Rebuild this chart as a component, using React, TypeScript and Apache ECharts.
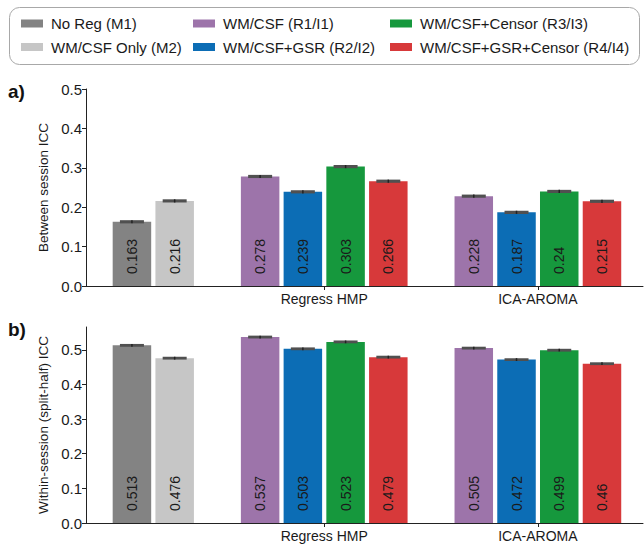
import React, { useEffect, useRef } from "react";
import * as echarts from "echarts";

// ---------- data ----------
const methodNames = [
  "No Reg (M1)",
  "WM/CSF Only (M2)",
  "WM/CSF (R1/I1)",
  "WM/CSF+GSR (R2/I2)",
  "WM/CSF+Censor (R3/I3)",
  "WM/CSF+GSR+Censor (R4/I4)",
];
const methodColors = ["#838383", "#c6c6c6", "#9d74aa", "#0c6db5", "#16983d", "#d7393a"];

// groups on the x axis; each lists the methods drawn in it
const groupLabels = ["", "Regress HMP", "ICA-AROMA"];
const groupMethods = [
  [0, 1],
  [2, 3, 4, 5],
  [2, 3, 4, 5],
];

// values per group (same order as groupMethods)
const betweenSessionICC = [
  [0.163, 0.216],
  [0.278, 0.239, 0.303, 0.266],
  [0.228, 0.187, 0.24, 0.215],
];
const withinSessionICC = [
  [0.513, 0.476],
  [0.537, 0.503, 0.523, 0.479],
  [0.505, 0.472, 0.499, 0.46],
];
const betweenErr = [
  [0.0015, 0.0015],
  [0.0015, 0.0015, 0.0015, 0.0015],
  [0.0015, 0.0015, 0.0015, 0.0015],
];
const withinErr = [
  [0.0012, 0.0012],
  [0.0012, 0.0012, 0.0012, 0.0012],
  [0.0012, 0.0012, 0.0012, 0.0012],
];
const yTicks = [0, 0.1, 0.2, 0.3, 0.4, 0.5];

// ---------- layout helpers ----------
// slot positions: one slot per bar, one empty slot between groups
function slotPositions() {
  const pos: number[][] = [];
  let s = 0;
  groupMethods.forEach((g) => {
    const row: number[] = [];
    g.forEach(() => {
      row.push(s);
      s += 1;
    });
    pos.push(row);
    s += 1;
  });
  return pos;
}
const positions = slotPositions();
const groupCenters = positions.map((r) => (r[0] + r[r.length - 1]) / 2);

const FONT = "'Liberation Sans', Arial, Helvetica, sans-serif";

function buildSeries(panel: number, values: number[][], errs: number[][]) {
  const series: any[] = [];
  methodNames.forEach((name, mi) => {
    const data: any[] = [];
    groupMethods.forEach((g, gi) => {
      g.forEach((m, k) => {
        if (m === mi) data.push([positions[gi][k], values[gi][k]]);
      });
    });
    series.push({
      type: "bar",
      name,
      xAxisIndex: panel,
      yAxisIndex: panel,
      data,
      barWidth: 38.5,
      barGap: "-100%",
      itemStyle: { color: methodColors[mi] },
      label: {
        show: true,
        position: "insideBottom",
        rotate: 90,
        align: "left",
        verticalAlign: "middle",
        distance: 12,
        color: "#1a1a1a",
        fontSize: 14,
        fontFamily: FONT,
        formatter: (p: any) => String(p.value[1]),
      },
      emphasis: { disabled: true },
    });
  });
  const errData: any[] = [];
  groupMethods.forEach((g, gi) => {
    g.forEach((m, k) => {
      errData.push([positions[gi][k], values[gi][k], errs[gi][k]]);
    });
  });
  series.push({
    type: "custom",
    xAxisIndex: panel,
    yAxisIndex: panel,
    data: errData,
    encode: { x: 0, y: 1 },
    z: 10,
    silent: true,
    renderItem: (params: any, api: any) => {
      const x = api.value(0);
      const y = api.value(1);
      const e = api.value(2);
      const top = api.coord([x, y + e]);
      const bot = api.coord([x, y - e]);
      const h = Math.max(bot[1] - top[1], 0);
      return {
        type: "group",
        children: [
          {
            type: "rect",
            shape: { x: top[0] - 12, y: top[1] - 1, width: 24, height: h + 2 },
            style: { fill: "#505050" },
          },
          {
            type: "line",
            shape: { x1: top[0], y1: top[1] - 1, x2: top[0], y2: bot[1] + 1 },
            style: { stroke: "#222", lineWidth: 1.5 },
          },
        ],
      };
    },
  });
  return series;
}

export default function App() {
  const ref = useRef<HTMLDivElement>(null);
  useEffect(() => {
    if (!ref.current) return;
    const chart = echarts.init(ref.current, undefined, { renderer: "svg" });
    const labelledCenters = groupCenters.filter((_, i) => groupLabels[i] !== "");
    const xAxisBase = (idx: number) => ({
      type: "value",
      gridIndex: idx,
      min: -1.075,
      max: 11.96,
      splitLine: { show: false },
      axisLine: { show: true, onZero: false, lineStyle: { color: "#222", width: 1 } },
      axisTick: {
        show: true,
        customValues: labelledCenters,
        length: 4,
        lineStyle: { color: "#222" },
      },
      axisLabel: {
        show: true,
        customValues: labelledCenters,
        formatter: (v: number) => {
          const i = groupCenters.findIndex((c) => Math.abs(c - v) < 1e-6);
          return i >= 0 ? groupLabels[i] : "";
        },
        color: "#1a1a1a",
        fontSize: 14,
        fontFamily: FONT,
        margin: 6,
      },
    });
    const yAxisBase = (idx: number, max: number, name: string) => ({
      type: "value",
      gridIndex: idx,
      min: 0,
      max,
      name,
      nameLocation: "middle",
      nameGap: 30,
      nameTextStyle: { color: "#1a1a1a", fontSize: 13.5, fontFamily: FONT },
      splitLine: { show: false },
      axisLine: { show: true, onZero: false, lineStyle: { color: "#222", width: 1 } },
      axisTick: { show: true, length: 4, customValues: yTicks, lineStyle: { color: "#222" } },
      axisLabel: {
        customValues: yTicks,
        formatter: (v: number) => v.toFixed(1),
        color: "#1a1a1a",
        fontSize: 15,
        fontFamily: FONT,
        margin: 4,
      },
    });
    const legendBase = (left: number, names: string[]) => ({
      orient: "vertical",
      left,
      top: 15.5,
      padding: 0,
      itemGap: 7.5,
      itemWidth: 22,
      itemHeight: 8,
      icon: "rect",
      selectedMode: false,
      data: names,
      textStyle: {
        color: "#1a1a1a",
        fontSize: 15,
        lineHeight: 16,
        fontFamily: FONT,
        padding: [0, 0, 0, 3],
      },
    });
    chart.setOption({
      animation: false,
      backgroundColor: "#ffffff",
      textStyle: { fontFamily: FONT },
      legend: [
        legendBase(21, [methodNames[0], methodNames[1]]),
        legendBase(193, [methodNames[2], methodNames[3]]),
        legendBase(390, [methodNames[4], methodNames[5]]),
      ],
      grid: [
        { left: 86, right: 1, top: 89, height: 197 },
        { left: 86, right: 1, top: 327, height: 196 },
      ],
      xAxis: [xAxisBase(0), xAxisBase(1)],
      yAxis: [
        yAxisBase(0, 0.5, "Between session ICC"),
        yAxisBase(1, 0.566, "Within-session (split-half) ICC"),
      ],
      graphic: [
        {
          type: "rect",
          shape: { x: 9.5, y: 7.5, width: 630, height: 57, r: 10 },
          style: { fill: "none", stroke: "#a8a8a8", lineWidth: 1 },
          z: -1,
        },
        {
          type: "text",
          x: 8,
          y: 82,
          style: { text: "a)", fontSize: 19, fontWeight: "bold", fontFamily: FONT, fill: "#111" },
        },
        {
          type: "text",
          x: 8,
          y: 320,
          style: { text: "b)", fontSize: 19, fontWeight: "bold", fontFamily: FONT, fill: "#111" },
        },
      ],
      series: [
        ...buildSeries(0, betweenSessionICC, betweenErr),
        ...buildSeries(1, withinSessionICC, withinErr),
      ],
    });
    return () => chart.dispose();
  }, []);
  return (
    <div
      ref={ref}
      style={{ position: "fixed", left: 0, top: 0, width: 644, height: 549, background: "#fff" }}
    />
  );
}
